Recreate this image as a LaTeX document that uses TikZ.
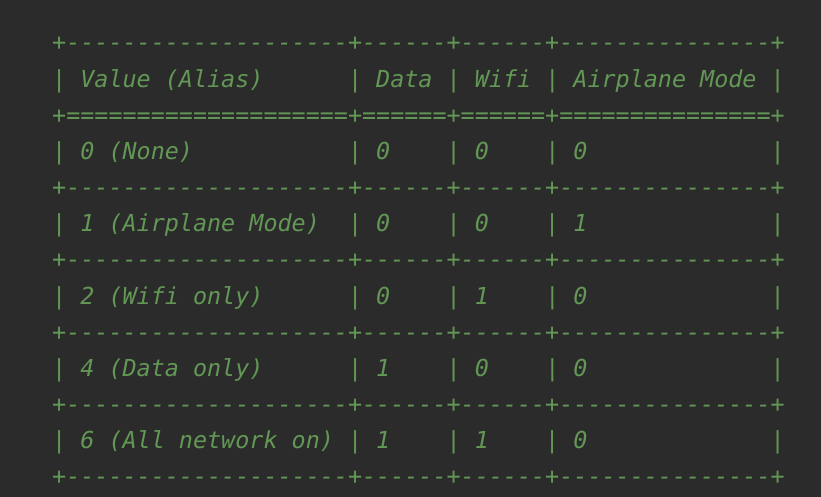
\documentclass[tikz,border=0pt]{standalone}
\usepackage{fontspec}
\newfontfamily\codefont{DejaVu Sans Mono}
\definecolor{bgc}{HTML}{2B2B2B}
\definecolor{txc}{HTML}{629755}
\begin{document}
\begin{tikzpicture}[x=1pt,y=1pt,
  row/.style={anchor=base west,inner sep=0pt,text=txc,font=\codefont\itshape\fontsize{23.4}{28}\selectfont}]
\fill[bgc] (0,0) rectangle (821,497);
\useasboundingbox (0,0) rectangle (821,497);
\def\sep{+--------------------+------+------+---------------+}
\def\dsep{+====================+======+======+===============+}
\node[row] (r0) at (52,{497-51}) {\sep};
\node[row] (r1) at (52,{497-51-36.15}) {|~Value~(Alias)~~~~~~|~Data~|~Wifi~|~Airplane~Mode~|};
\node[row] (r2) at (52,{497-51-2*36.15}) {\dsep};
\node[row] (r3) at (52,{497-51-3*36.15}) {|~0~(None)~~~~~~~~~~~|~0~~~~|~0~~~~|~0~~~~~~~~~~~~~|};
\node[row] (r4) at (52,{497-51-4*36.15}) {\sep};
\node[row] (r5) at (52,{497-51-5*36.15}) {|~1~(Airplane~Mode)~~|~0~~~~|~0~~~~|~1~~~~~~~~~~~~~|};
\node[row] (r6) at (52,{497-51-6*36.15}) {\sep};
\node[row] (r7) at (52,{497-51-7*36.15}) {|~2~(Wifi~only)~~~~~~|~0~~~~|~1~~~~|~0~~~~~~~~~~~~~|};
\node[row] (r8) at (52,{497-51-8*36.15}) {\sep};
\node[row] (r9) at (52,{497-51-9*36.15}) {|~4~(Data~only)~~~~~~|~1~~~~|~0~~~~|~0~~~~~~~~~~~~~|};
\node[row] (r10) at (52,{497-51-10*36.15}) {\sep};
\node[row] (r11) at (52,{497-51-11*36.15}) {|~6~(All~network~on)~|~1~~~~|~1~~~~|~0~~~~~~~~~~~~~|};
\node[row] (r12) at (52,{497-51-12*36.15}) {\sep};
\end{tikzpicture}
\end{document}
